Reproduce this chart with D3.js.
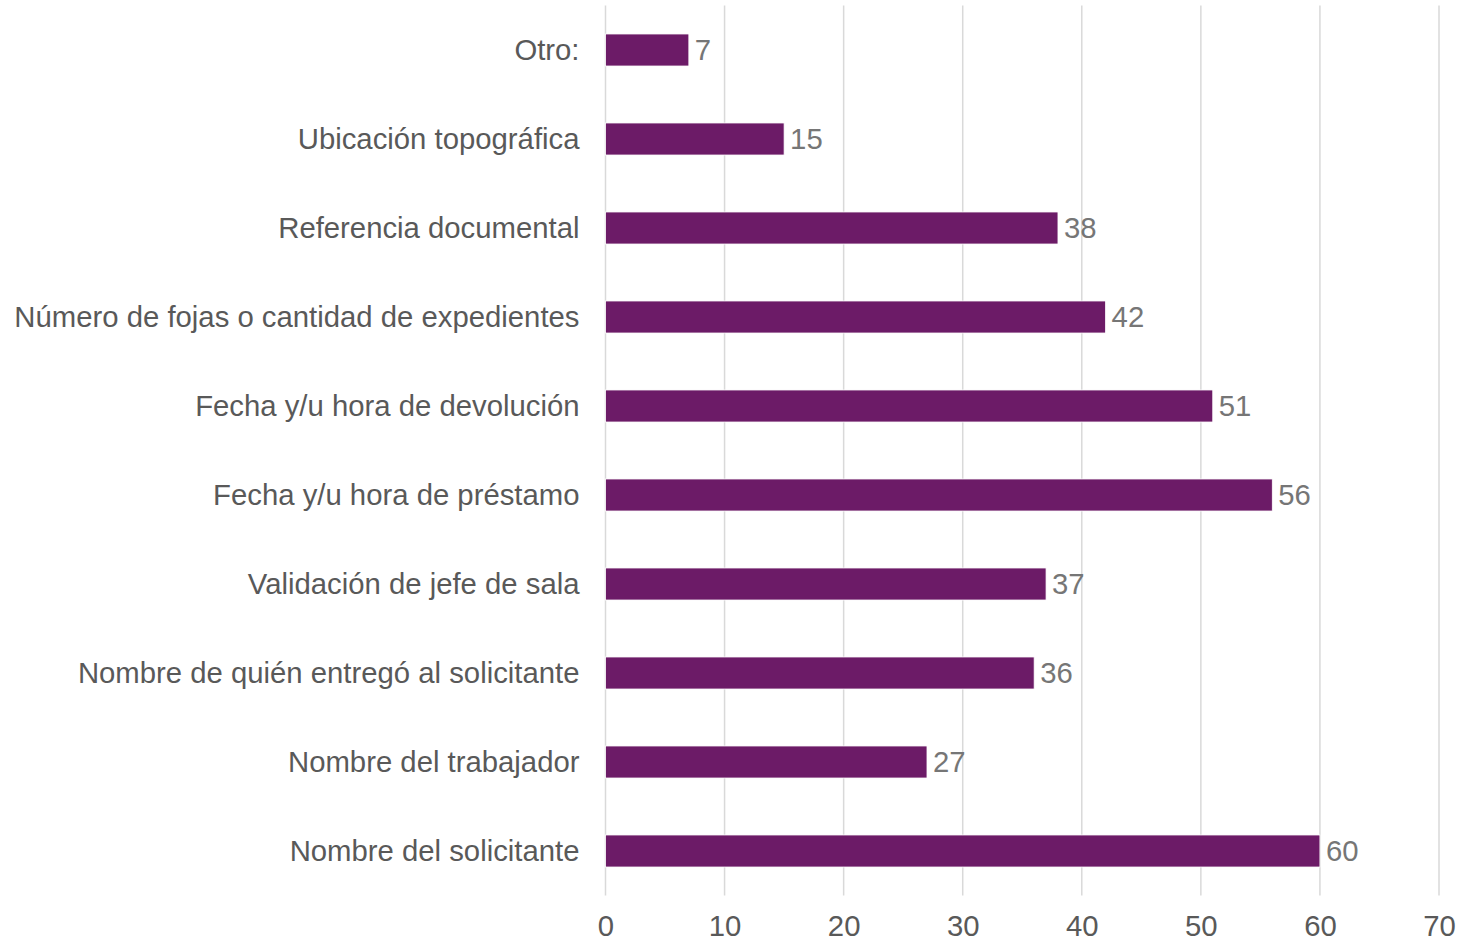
<!DOCTYPE html>
<html>
<head>
<meta charset="utf-8">
<script src="https://cdn.jsdelivr.net/npm/d3@7"></script>
<style>
  html, body { margin: 0; padding: 0; background: #ffffff; }
  svg { display: block; font-family: "Liberation Sans", Arial, sans-serif; }
</style>
</head>
<body>
<svg id="chart" width="1458" height="944"></svg>
<script>
// Campos registrados en el formato de préstamo (de arriba hacia abajo)
const categories = [
  "Otro:",
  "Ubicación topográfica",
  "Referencia documental",
  "Número de fojas o cantidad de expedientes",
  "Fecha y/u hora de devolución",
  "Fecha y/u hora de préstamo",
  "Validación de jefe de sala",
  "Nombre de quién entregó al solicitante",
  "Nombre del trabajador",
  "Nombre del solicitante"
];
const values = [7, 15, 38, 42, 51, 56, 37, 36, 27, 60];
const tickValues = [0, 10, 20, 30, 40, 50, 60, 70];

const svg = d3.select("#chart");
const margin = { top: 5.5, right: 19, bottom: 48.5, left: 605.5 };
const width = 1458 - margin.left - margin.right;
const height = 944 - margin.top - margin.bottom;
const fontSize = "29.3px";

const x = d3.scaleLinear().domain([0, 70]).range([0, width]);
const y = d3.scaleBand().domain(categories).range([0, height]).paddingInner(0.64).paddingOuter(0.32);

const g = svg.append("g").attr("transform", `translate(${margin.left},${margin.top})`);

// Líneas de cuadrícula verticales
g.append("g")
  .selectAll("line")
  .data(tickValues)
  .join("line")
  .attr("x1", d => x(d)).attr("x2", d => x(d))
  .attr("y1", 0).attr("y2", height)
  .attr("stroke", "#d9d9d9")
  .attr("stroke-width", 1.5);

// Eje X
const xAxis = g.append("g")
  .attr("transform", `translate(0,${height})`)
  .call(d3.axisBottom(x).tickValues(tickValues).tickSize(0).tickPadding(20));
xAxis.select(".domain").remove();
xAxis.selectAll("text")
  .attr("fill", "#595959")
  .style("font-size", fontSize)
  .style("font-family", "Liberation Sans, Arial, sans-serif");

// Eje Y (etiquetas de categoría)
const yAxis = g.append("g")
  .call(d3.axisLeft(y).tickSize(0).tickPadding(26));
yAxis.select(".domain").remove();
yAxis.selectAll("text")
  .attr("fill", "#595959")
  .attr("dy", "0.35em")
  .style("font-size", fontSize)
  .style("font-family", "Liberation Sans, Arial, sans-serif");

// Barras
g.append("g")
  .selectAll("rect")
  .data(categories)
  .join("rect")
  .attr("x", x(0))
  .attr("y", d => y(d))
  .attr("width", (d, i) => x(values[i]) - x(0))
  .attr("height", y.bandwidth())
  .attr("fill", "#6c1b67")
  .attr("stroke", "#ffffff")
  .attr("stroke-width", 0.8);

// Etiquetas de valor
g.append("g")
  .selectAll("text")
  .data(categories)
  .join("text")
  .attr("x", (d, i) => x(values[i]) + 6)
  .attr("y", d => y(d) + y.bandwidth() / 2)
  .attr("dy", "0.33em")
  .attr("fill", "#767676")
  .style("font-size", fontSize)
  .text((d, i) => values[i]);
</script>
</body>
</html>
